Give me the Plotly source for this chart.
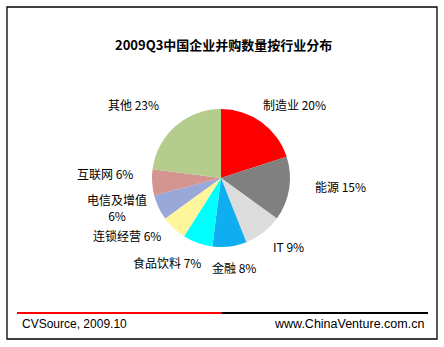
import math
import plotly.graph_objects as go

W, H = 444, 347

# Industry breakdown of M&A deal counts, 2009 Q3 (%)
industries = ["制造业", "能源", "IT", "金融", "食品饮料", "连锁经营", "电信及增值", "互联网", "其他"]
shares = [20, 15, 9, 8, 7, 6, 6, 6, 23]
label_text = ["制造业 20%", "能源 15%", "IT 9%", "金融 8%", "食品饮料 7%", "连锁经营 6%",
              "电信及增值<br>6%", "互联网 6%", "其他 23%"]

colors = ["#FF0000", "#808080", "#DCDCDC", "#10AEF0", "#00FFFF", "#FFF59A",
          "#98A8D8", "#D49490", "#B4CC8C"]

# pie geometry in pixels
cx, cy, r = 221, 178, 69
# distance of each label anchor from the pie centre, plus small nudges (px)
label_dist = [80, 95, 82, 86, 84, 82, 80, 86, 90]
label_dx = [-7, -2, 0, 2, 10, -2, 0, 0, 0]
label_dy = [-2, 6, 7, 6, 5, 2, 5, 10, -5]

fig = go.Figure()
fig.add_trace(go.Pie(
    labels=industries,
    values=shares,
    sort=False,
    direction="clockwise",
    rotation=0,
    textinfo="none",
    hoverinfo="label+percent",
    marker=dict(colors=colors, line=dict(width=0)),
    domain=dict(x=[(cx - r) / W, (cx + r) / W], y=[1 - (cy + r) / H, 1 - (cy - r) / H]),
    showlegend=False,
))

annotations = []
total = sum(shares)
cum = 0
for txt, v, d, nx, ny in zip(label_text, shares, label_dist, label_dx, label_dy):
    mid = (cum + v / 2) / total * 2 * math.pi
    cum += v
    s, c = math.sin(mid), math.cos(mid)
    px = cx + d * s
    py = cy - d * c
    xa = "center" if abs(s) < 0.2 else ("left" if s > 0 else "right")
    ya = "middle" if abs(c) < 0.74 else ("bottom" if c > 0 else "top")
    annotations.append(dict(
        x=px / W, y=1 - py / H, xref="paper", yref="paper",
        xshift=nx, yshift=ny,
        text=txt, showarrow=False, xanchor=xa, yanchor=ya, align="center",
        font=dict(family="Noto Sans CJK SC, Arial", size=12, color="#000000"),
    ))

# title
annotations.append(dict(
    x=223 / W, y=1 - 44 / H, xref="paper", yref="paper",
    text="<b>2009Q3中国企业并购数量按行业分布</b>", showarrow=False,
    xanchor="center", yanchor="middle",
    font=dict(family="Noto Sans CJK SC, Arial", size=13, color="#000000"),
))
# footer
annotations.append(dict(
    x=20 / W, y=1 - 324 / H, xref="paper", yref="paper",
    text="CVSource, 2009.10", showarrow=False, xanchor="left", yanchor="middle",
    font=dict(family="Liberation Sans, Arial", size=12, color="#000000"),
))
annotations.append(dict(
    x=426 / W, y=1 - 324 / H, xref="paper", yref="paper",
    text="www.ChinaVenture.com.cn", showarrow=False, xanchor="right", yanchor="middle",
    font=dict(family="Liberation Sans, Arial", size=12.5, color="#000000"),
))

shapes = [
    dict(type="rect", xref="paper", yref="paper",
         x0=7 / W, x1=437 / W, y0=1 - 339 / H, y1=1 - 7 / H,
         line=dict(color="#000000", width=1.3), fillcolor="rgba(0,0,0,0)"),
    dict(type="line", xref="paper", yref="paper",
         x0=17 / W, x1=222 / W, y0=1 - 313 / H, y1=1 - 313 / H,
         line=dict(color="#FF0000", width=2)),
    dict(type="line", xref="paper", yref="paper",
         x0=222 / W, x1=428 / W, y0=1 - 313 / H, y1=1 - 313 / H,
         line=dict(color="#000000", width=2)),
]

fig.update_layout(
    width=W, height=H,
    margin=dict(l=0, r=0, t=0, b=0),
    paper_bgcolor="#FFFFFF", plot_bgcolor="#FFFFFF",
    annotations=annotations, shapes=shapes,
)

fig.write_html("out.html")
